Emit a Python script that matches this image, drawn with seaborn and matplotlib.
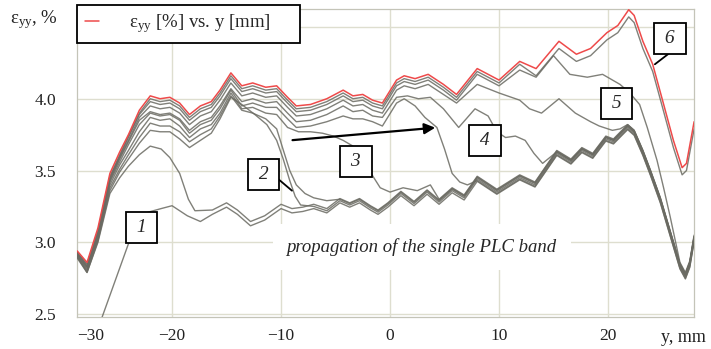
import numpy as np
import pandas as pd
import matplotlib
matplotlib.use('Agg')
import matplotlib.pyplot as plt
from matplotlib.lines import Line2D
import seaborn as sns

################################################################################
# values (y in mm, strain eps_yy in %)

# red curve = last state (band has crossed the whole gauge)
y_top = [-28.7, -27.8, -26.8, -25.7, -24.8, -24.0, -23.0, -22.0, -21.1, -20.2, -19.3, -18.4, -17.4,
         -16.4, -15.6, -14.6, -13.6, -12.6, -11.4, -10.4, -9.4, -8.6, -7.3, -5.8, -4.3, -3.4, -2.5,
         -1.6, -0.7, 0.6, 1.3, 2.3, 3.5, 4.9, 6.1, 8.0, 10.0, 11.9, 13.4, 15.5, 17.1, 18.4, 19.9,
         20.9, 21.9, 22.4, 23.2, 24.1, 25.0, 26.0, 26.8, 27.2, 27.9]
eps_top = [2.94, 2.86, 3.10, 3.48, 3.63, 3.75, 3.92, 4.02, 4.00, 4.01, 3.97, 3.89, 3.95,
           3.98, 4.06, 4.18, 4.09, 4.11, 4.08, 4.09, 4.01, 3.95, 3.96, 4.00, 4.06, 4.02, 4.03,
           3.99, 3.97, 4.13, 4.16, 4.14, 4.17, 4.10, 4.03, 4.21, 4.13, 4.26, 4.21, 4.40, 4.31, 4.35, 4.46,
           4.51, 4.62, 4.58, 4.40, 4.24, 3.99, 3.71, 3.52, 3.55, 3.84]

# lower bundle (part of the gauge the band has not reached yet)
y_base = [-21.0, -20.0, -18.6, -17.4, -16.3, -15.0, -14.0, -12.8, -11.5, -10.0, -9.0, -8.0, -7.0,
          -5.8, -4.6, -3.7, -2.8, -1.8, -1.1, -0.2, 1.0, 2.2, 3.4, 4.5, 5.7, 6.8, 8.0, 9.8, 11.9,
          13.3, 15.3, 16.6, 17.6, 18.6, 19.8, 20.5, 21.8, 22.4, 23.2, 23.9, 24.8, 25.7, 26.6, 27.1,
          27.5, 27.9]
eps_base = [3.25, 3.27, 3.20, 3.16, 3.21, 3.26, 3.21, 3.13, 3.17, 3.25, 3.22, 3.23, 3.25,
            3.22, 3.29, 3.26, 3.29, 3.24, 3.21, 3.26, 3.34, 3.27, 3.35, 3.28, 3.36, 3.31, 3.44, 3.35, 3.45,
            3.40, 3.62, 3.56, 3.64, 3.60, 3.72, 3.70, 3.80, 3.76, 3.62, 3.48, 3.29, 3.06, 2.83, 2.76,
            2.84, 3.02]

# left rise, shared knots
y_rise = [-28.7, -27.8, -26.8, -25.7, -24.8, -24.0, -23.0]
rise_6b = [2.93, 2.85, 3.08, 3.46, 3.61, 3.74, 3.90]
rise_5b = [2.93, 2.84, 3.07, 3.45, 3.60, 3.73, 3.89]
rise_5a = [2.92, 2.83, 3.06, 3.44, 3.59, 3.71, 3.87]
rise_4b = [2.92, 2.83, 3.05, 3.43, 3.58, 3.70, 3.85]
rise_4a = [2.91, 2.82, 3.04, 3.42, 3.56, 3.68, 3.82]
rise_3a = [2.91, 2.81, 3.03, 3.40, 3.54, 3.64, 3.77]
rise_2b = [2.90, 2.80, 3.02, 3.38, 3.51, 3.61, 3.73]
rise_2a = [2.90, 2.79, 3.01, 3.36, 3.49, 3.58, 3.69]
rise_1b = [2.89, 2.79, 3.00, 3.34, 3.45, 3.53, 3.61]

# band fronts of the intermediate states
y_5b = [11.9, 13.4, 15.0, 16.5, 18.1, 19.5, 21.1, 22.0, 22.9, 23.6, 24.5, 25.1, 25.7]
eps_5b = [4.20, 4.15, 4.30, 4.17, 4.15, 4.17, 4.10, 4.04, 3.96, 3.80, 3.57, 3.38, 3.18]

y_5a = [6.1, 8.0, 10.0, 11.9, 12.8, 13.9, 15.5, 17.0, 18.4, 19.2, 20.4, 21.1]
eps_5a = [3.97, 4.10, 4.04, 3.99, 3.93, 3.90, 4.00, 3.90, 3.84, 3.81, 3.78, 3.79]

y_4b = [-0.7, 0.6, 1.6, 2.6, 3.7, 4.9, 6.3, 7.8, 9.0, 9.8, 10.6, 11.5, 12.4, 13.2, 14.0]
eps_4b = [3.87, 4.01, 4.02, 4.00, 4.01, 3.93, 3.80, 3.93, 3.88, 3.77, 3.73, 3.74, 3.71, 3.62, 3.55]

y_4a = [-22.0, -21.1, -20.2, -19.3, -18.4, -17.4, -16.4, -15.6, -14.6, -13.6,
        -12.6, -11.4, -10.4, -9.4, -8.6, -7.3, -5.8, -4.3, -3.4, -2.5,
        -1.6, -0.7, 0.6, 1.3, 2.3, 3.2, 4.3, 5.0, 5.7, 6.4, 7.1]
eps_4a = [3.90, 3.88, 3.89, 3.85, 3.76, 3.82, 3.85, 3.93, 4.06, 3.95,
          3.97, 3.94, 3.94, 3.86, 3.80, 3.81, 3.84, 3.88, 3.86, 3.86,
          3.84, 3.81, 3.97, 4.00, 3.95, 3.87, 3.80, 3.65, 3.48, 3.42, 3.40]

y_3a = [-22.0, -21.1, -20.2, -19.3, -18.4, -17.4, -16.4, -15.6, -14.6, -13.6,
        -12.6, -11.4, -10.4, -9.4, -8.4, -7.3, -6.2, -5.2, -4.3, -3.4,
        -2.5, -1.9, -0.9, 0.0, 1.2, 2.5, 3.7]
eps_3a = [3.87, 3.85, 3.86, 3.81, 3.73, 3.79, 3.82, 3.90, 4.04, 3.93,
          3.94, 3.90, 3.89, 3.80, 3.77, 3.77, 3.76, 3.74, 3.71, 3.67,
          3.59, 3.50, 3.38, 3.35, 3.38, 3.36, 3.40]

y_2b = [-22.0, -21.1, -20.2, -19.3, -18.4, -17.4, -16.4, -15.6, -14.6, -13.6,
        -12.6, -11.4, -10.4, -9.7, -9.2, -8.6, -7.8, -7.0, -5.8, -4.6]
eps_2b = [3.83, 3.81, 3.81, 3.77, 3.70, 3.75, 3.79, 3.88, 4.02, 3.92,
          3.90, 3.86, 3.79, 3.62, 3.50, 3.40, 3.34, 3.31, 3.29, 3.30]

y_2a = [-22.0, -21.1, -20.2, -19.3, -18.4, -17.4, -16.4, -15.6, -14.6, -13.6,
        -12.4, -11.3, -10.4, -9.8, -9.2, -8.7, -8.2]
eps_2a = [3.78, 3.77, 3.77, 3.72, 3.66, 3.71, 3.76, 3.86, 4.01, 3.96,
          3.89, 3.82, 3.71, 3.58, 3.43, 3.32, 3.26]

y_1b = [-22.0, -21.0, -20.2, -19.3, -18.5, -17.9]
eps_1b = [3.67, 3.65, 3.59, 3.48, 3.30, 3.22]

y_1 = [-27.5, -24.0, -23.2, -22.2]
eps_1 = [2.25, 2.99, 3.13, 3.21]

################################################################################

def part(xs, es, lo, hi, shift=0.0):
    return [(x, e + shift) for x, e in zip(xs, es) if lo <= x <= hi]

def knots(xs, es):
    return list(zip(xs, es))

curves = {
    '6b': knots(y_rise, rise_6b) + part(y_top, eps_top, -22, 11.9, -0.02) + part(y_top, eps_top, 13.4, 28, -0.05),
    '5b': knots(y_rise, rise_5b) + part(y_top, eps_top, -22, 10.0, -0.04) + knots(y_5b, eps_5b)
          + part(y_base, eps_base, 26.6, 28, 0.03),
    '5a': knots(y_rise, rise_5a) + part(y_top, eps_top, -22, 4.9, -0.07) + knots(y_5a, eps_5a)
          + part(y_base, eps_base, 21.8, 28, 0.02),
    '4b': knots(y_rise, rise_4b) + part(y_top, eps_top, -22, -1.6, -0.11) + knots(y_4b, eps_4b)
          + part(y_base, eps_base, 15.3, 28, 0.01),
    '4a': knots(y_rise, rise_4a) + knots(y_4a, eps_4a) + part(y_base, eps_base, 8.0, 28, -0.01),
    '3a': knots(y_rise, rise_3a) + knots(y_3a, eps_3a) + part(y_base, eps_base, 4.5, 28, 0.02),
    '2b': knots(y_rise, rise_2b) + knots(y_2b, eps_2b) + part(y_base, eps_base, -3.7, 28, 0.01),
    '2a': knots(y_rise, rise_2a) + knots(y_2a, eps_2a) + part(y_base, eps_base, -7.0, 28, 0.0),
    '1b': knots(y_rise, rise_1b) + knots(y_1b, eps_1b) + part(y_base, eps_base, -16.3, 28, 0.015),
    '1': knots(y_1, eps_1) + part(y_base, eps_base, -21.0, 28, -0.015),
}

rows = []
for name, pts in curves.items():
    for x, e in pts:
        rows.append({'curve': name, 'y': x, 'eps': e})
grey_df = pd.DataFrame(rows)
top_df = pd.DataFrame({'y': y_top, 'eps': eps_top})

################################################################################

sns.set_theme(style='white')
plt.rcParams['font.family'] = ['Liberation Serif', 'DejaVu Serif']
plt.rcParams['mathtext.fontset'] = 'custom'
plt.rcParams['mathtext.rm'] = 'Liberation Serif'
plt.rcParams['mathtext.it'] = 'Liberation Serif:italic'

fig = plt.figure(figsize=(7.11, 3.49), dpi=100)
ax = fig.add_axes([77 / 711, 1 - 317 / 349, 617 / 711, 308 / 349])

for name in curves:
    sns.lineplot(data=grey_df[grey_df['curve'] == name], x='y', y='eps', sort=False,
                 color='#6a6a62', lw=1.0, alpha=0.85, ax=ax, zorder=3)
sns.lineplot(data=top_df, x='y', y='eps', sort=False, color='#ee4a4a', lw=1.1, ax=ax, zorder=4)

ax.set_xlim(-28.72, 27.89)
ax.set_ylim(2.48, 4.625)
ax.set_xlabel('')
ax.set_ylabel('')

ax.set_xticks([-20, -10, 0, 10, 20], ['−20', '−10', '0', '10', '20'])
ax.set_xticks([-27.5], ['−30'], minor=True)
ax.set_yticks([2.5, 3.0, 3.5, 4.0, 4.5], ['2.5', '3.0', '3.5', '4.0', ''])
ax.set_yticks(np.arange(2.5, 4.61, 0.1), minor=True)
ax.tick_params(axis='x', which='both', length=0, pad=8, labelsize=12.5, labelcolor='#222222')
ax.tick_params(axis='y', which='both', direction='in', length=3, width=0.7, color='#aaaaaa',
               pad=15, labelsize=12.5, labelcolor='#222222')
ax.tick_params(axis='y', which='minor', labelleft=False)

ax.grid(True, which='major', color='#dedecf', lw=1.0)
ax.set_axisbelow(True)
for sp in ax.spines.values():
    sp.set_color('#c4c4b8')
    sp.set_linewidth(0.9)

# annotations
ax.text(2.9, 2.97, 'propagation of the single PLC band', style='italic', fontsize=13.5,
        ha='center', va='center', zorder=2,
        bbox=dict(boxstyle='square,pad=0.75', fc='white', ec='none'))

box = dict(boxstyle='square,pad=0.36', fc='white', ec='black', lw=1.3)
labels_xy = [('1', -22.8, 3.10), ('2', -11.6, 3.47), ('3', -3.1, 3.56),
             ('4', 8.7, 3.71), ('5', 20.8, 3.97), ('6', 25.7, 4.42)]
for lab, lx, ly in labels_xy:
    ax.text(lx, ly, '\u2009' + lab + '\u2009', style='italic', fontsize=14, ha='center', va='center',
            bbox=box, zorder=6)

ax.plot([-10.4, -9.0], [3.45, 3.36], color='black', lw=1.3, zorder=5)
ax.plot([24.3, 25.5], [4.24, 4.31], color='black', lw=1.3, zorder=5)
ax.annotate('', xy=(4.4, 3.80), xytext=(-9.2, 3.71),
            arrowprops=dict(arrowstyle='-|>', color='black', lw=1.6, mutation_scale=16), zorder=6)

handle = Line2D([], [], color='#ee4a4a', lw=1.1)
leg = ax.legend([handle], ['ε$_{\\mathrm{yy}}$ [%] vs. y [mm]'], loc='upper left',
                bbox_to_anchor=(0, 1.013, 0.361, 0), mode='expand', borderaxespad=0,
                fancybox=False, edgecolor='black', framealpha=1, fontsize=13.5,
                handlelength=0.75, handletextpad=1.6, borderpad=0.4)
leg.get_frame().set_linewidth(1.3)
leg.set_zorder(10)

fig.text(10 / 711, 1 - 20 / 349, 'ε$_{\\mathrm{yy}}$, %', fontsize=13.5, ha='left', va='center',
         color='#222222')
fig.text(683 / 711, 1 - 337 / 349, 'y, mm', fontsize=13, ha='center', va='center', color='#222222')

fig.savefig('out.png', dpi=100)
